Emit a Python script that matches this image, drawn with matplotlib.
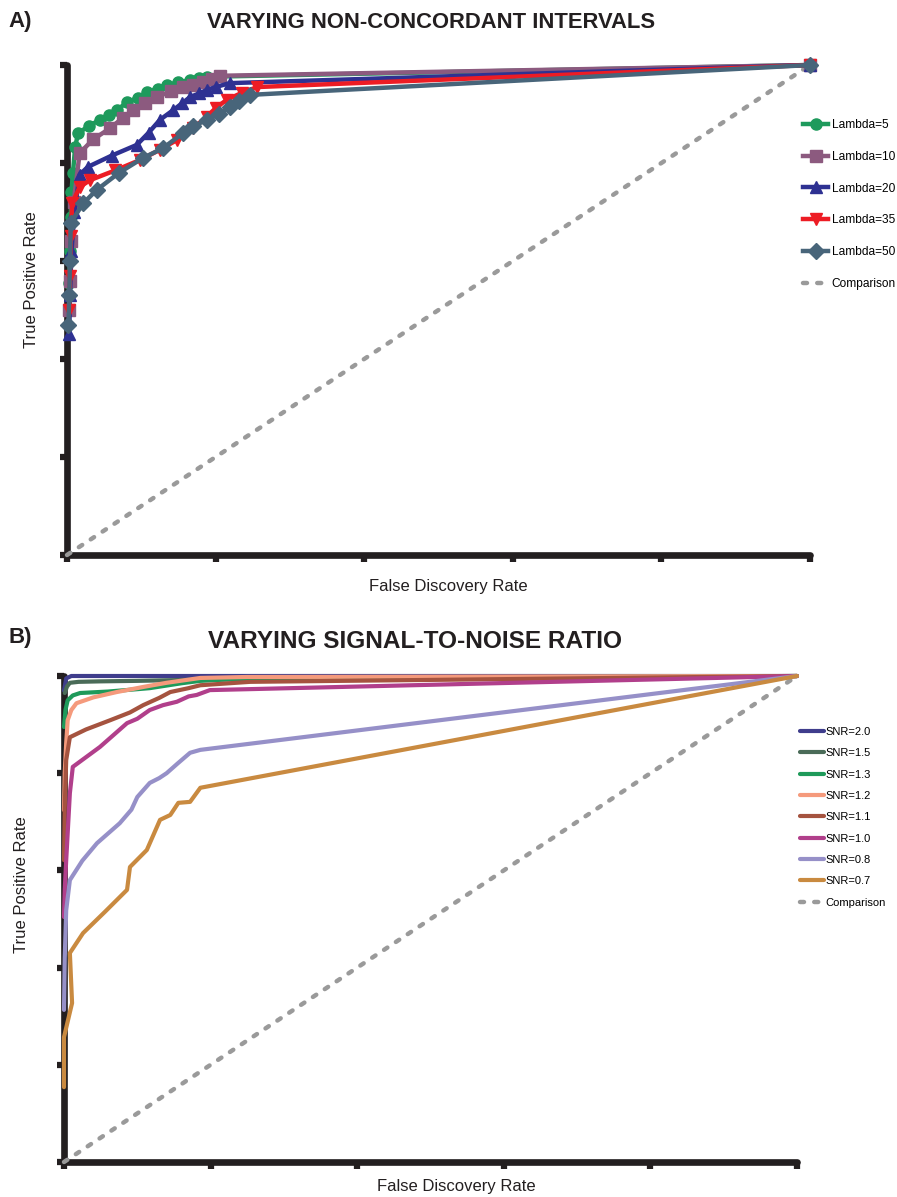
import matplotlib
matplotlib.use("Agg")
import matplotlib.pyplot as plt

plt.rcParams['font.family'] = ['Liberation Sans', 'DejaVu Sans']

# ---- panel A data: varying non-concordant intervals ----
lam_labels = ["Lambda=5", "Lambda=10", "Lambda=20", "Lambda=35", "Lambda=50"]
lam_colors = ["#1e9a5c", "#8c5a7f", "#2e3192", "#ed1c24", "#48657a"]
lam_markers = ["o", "s", "^", "v", "D"]

lam5_x = [0.003, 0.004, 0.005, 0.006, 0.008, 0.011, 0.015, 0.030, 0.044, 0.056, 0.067,
          0.081, 0.095, 0.108, 0.122, 0.135, 0.150, 0.166, 0.178, 0.188, 1.0]
lam5_y = [0.555, 0.62, 0.69, 0.74, 0.78, 0.833, 0.861, 0.876, 0.888, 0.897, 0.908,
          0.924, 0.933, 0.945, 0.952, 0.959, 0.965, 0.969, 0.973, 0.976, 1.0]

lam10_x = [0.003, 0.004, 0.006, 0.009, 0.017, 0.035, 0.058, 0.075, 0.089, 0.105, 0.121,
           0.140, 0.156, 0.170, 0.183, 0.195, 0.206, 1.0]
lam10_y = [0.50, 0.56, 0.64, 0.72, 0.82, 0.848, 0.871, 0.892, 0.908, 0.922, 0.935,
           0.946, 0.955, 0.960, 0.965, 0.972, 0.978, 1.0]

lam20_x = [0.003, 0.004, 0.006, 0.010, 0.017, 0.028, 0.060, 0.094, 0.110, 0.125, 0.143,
           0.155, 0.166, 0.178, 0.188, 0.200, 0.219, 1.0]
lam20_y = [0.45, 0.53, 0.62, 0.70, 0.776, 0.792, 0.815, 0.837, 0.862, 0.888, 0.908,
           0.922, 0.935, 0.942, 0.949, 0.955, 0.963, 1.0]

lam35_x = [0.003, 0.004, 0.005, 0.007, 0.017, 0.031, 0.065, 0.098, 0.125, 0.148, 0.170,
           0.188, 0.200, 0.215, 0.235, 0.256, 1.0]
lam35_y = [0.50, 0.57, 0.65, 0.718, 0.751, 0.765, 0.785, 0.806, 0.827, 0.847, 0.872,
           0.894, 0.912, 0.929, 0.943, 0.955, 1.0]

lam50_x = [0.002, 0.003, 0.004, 0.005, 0.022, 0.040, 0.070, 0.102, 0.129, 0.156, 0.170,
           0.188, 0.205, 0.219, 0.232, 0.246, 1.0]
lam50_y = [0.47, 0.53, 0.60, 0.678, 0.718, 0.745, 0.78, 0.81, 0.83, 0.861, 0.875,
           0.888, 0.900, 0.914, 0.927, 0.939, 1.0]

lam_x = [lam5_x, lam10_x, lam20_x, lam35_x, lam50_x]
lam_y = [lam5_y, lam10_y, lam20_y, lam35_y, lam50_y]

# ---- panel B data: varying signal-to-noise ratio ----
snr_labels = ["SNR=2.0", "SNR=1.5", "SNR=1.3", "SNR=1.2", "SNR=1.1", "SNR=1.0", "SNR=0.8", "SNR=0.7"]
snr_colors = ["#3f3d8c", "#4a6b58", "#1e9a5a", "#f59a7c", "#a5533f", "#b13f8b", "#9690c8", "#c98a40"]

snr20_x = [0.0, 0.003, 0.010, 1.0]
snr20_y = [0.97, 0.995, 1.0, 1.0]
snr15_x = [0.001, 0.004, 0.008, 0.02, 0.05, 0.10, 0.20, 1.0]
snr15_y = [0.965, 0.978, 0.986, 0.988, 0.989, 0.990, 0.993, 1.0]
snr13_x = [0.0, 0.002, 0.005, 0.012, 0.022, 0.06, 0.117, 0.16, 0.186, 0.25, 1.0]
snr13_y = [0.895, 0.93, 0.95, 0.96, 0.965, 0.968, 0.975, 0.985, 0.99, 0.995, 1.0]
snr12_x = [0.0, 0.001, 0.003, 0.005, 0.010, 0.017, 0.04, 0.072, 0.11, 0.14, 0.186, 0.25, 1.0]
snr12_y = [0.724, 0.80, 0.862, 0.909, 0.93, 0.944, 0.956, 0.967, 0.978, 0.986, 0.996, 0.998, 1.0]
snr11_x = [0.0, 0.001, 0.003, 0.008, 0.03, 0.063, 0.09, 0.108, 0.13, 0.145, 0.17, 0.186, 0.254, 1.0]
snr11_y = [0.621, 0.73, 0.827, 0.874, 0.89, 0.909, 0.925, 0.94, 0.955, 0.967, 0.975, 0.981, 0.988, 1.0]
snr10_x = [0.0, 0.001, 0.003, 0.008, 0.012, 0.049, 0.086, 0.100, 0.117, 0.135, 0.154, 0.170, 0.181, 0.199, 1.0]
snr10_y = [0.504, 0.56, 0.621, 0.759, 0.813, 0.854, 0.903, 0.912, 0.93, 0.94, 0.947, 0.958, 0.961, 0.971, 1.0]
snr08_x = [0.0, 0.001, 0.003, 0.008, 0.025, 0.045, 0.076, 0.092, 0.100, 0.117, 0.130, 0.140, 0.155, 0.172, 0.186, 1.0]
snr08_y = [0.313, 0.42, 0.518, 0.58, 0.62, 0.656, 0.697, 0.725, 0.751, 0.78, 0.79, 0.80, 0.82, 0.842, 0.848, 1.0]
snr07_x = [0.0, 0.0, 0.011, 0.008, 0.026, 0.056, 0.086, 0.09, 0.113, 0.131, 0.145, 0.156, 0.172, 0.186, 1.0]
snr07_y = [0.154, 0.257, 0.327, 0.43, 0.471, 0.515, 0.56, 0.607, 0.642, 0.704, 0.714, 0.739, 0.741, 0.77, 1.0]

snr_x = [snr20_x, snr15_x, snr13_x, snr12_x, snr11_x, snr10_x, snr08_x, snr07_x]
snr_y = [snr20_y, snr15_y, snr13_y, snr12_y, snr11_y, snr10_y, snr08_y, snr07_y]

diag = [0.0, 1.0]
ticks = [0.0, 0.2, 0.4, 0.6, 0.8, 1.0]

ink = "#231f20"
gray = "#9a9a9a"


def style_axes(ax):
    ax.set_xlim(0, 1)
    ax.set_ylim(0, 1)
    for s in ["top", "right"]:
        ax.spines[s].set_visible(False)
    for s in ["left", "bottom"]:
        ax.spines[s].set_linewidth(4.8)
        ax.spines[s].set_color(ink)
        ax.spines[s].set_capstyle("round")
    ax.set_xticks(ticks)
    ax.set_yticks(ticks)
    ax.tick_params(direction="out", length=5, width=4.5, color=ink,
                   labelbottom=False, labelleft=False)
    ax.patch.set_alpha(0)


fig = plt.figure(figsize=(8.97, 11.97), dpi=100)

# panel A
axA = fig.add_axes([67 / 897, 1 - 555 / 1197, 743 / 897, 490 / 1197])
style_axes(axA)
for xs, ys, c, m, lab in zip(lam_x, lam_y, lam_colors, lam_markers, lam_labels):
    axA.plot(xs, ys, color=c, lw=3.2, marker=m, ms=8, mec=c, label=lab,
             clip_on=False, zorder=4)
axA.plot(diag, diag, color=gray, lw=3.2, ls=(0, (0.9, 2.3)), dash_capstyle="round",
         label="Comparison", clip_on=False, zorder=3)
hA, lA = axA.get_legend_handles_labels()
fig.legend(hA, lA, loc="upper left", bbox_to_anchor=(803 / 897, 1 - 119 / 1197),
           frameon=False, fontsize=8.6, handlelength=2.1, handletextpad=0.3,
           labelspacing=1.66, borderpad=0, borderaxespad=0)

fig.text(8 / 897, 1 - 22 / 1197, "A)", fontsize=16, fontweight="bold", color=ink,
         ha="left", va="center")
fig.text(431 / 897, 1 - 22 / 1197, "VARYING NON-CONCORDANT INTERVALS", fontsize=15.8,
         fontweight="bold", color=ink, ha="center", va="center")
fig.text(448 / 897, 1 - 586 / 1197, "False Discovery Rate", fontsize=12, color=ink,
         ha="center", va="center")
fig.text(32 / 897, 1 - 280 / 1197, "True Positive Rate", fontsize=12, color=ink,
         ha="center", va="center", rotation=90)

# panel B
axB = fig.add_axes([64 / 897, 1 - 1162 / 1197, 733 / 897, 486 / 1197])
style_axes(axB)
for xs, ys, c, lab in zip(snr_x, snr_y, snr_colors, snr_labels):
    axB.plot(xs, ys, color=c, lw=3, label=lab, clip_on=False, zorder=4,
             solid_capstyle="round", solid_joinstyle="round")
axB.plot(diag, diag, color=gray, lw=3.2, ls=(0, (0.9, 2.3)), dash_capstyle="round",
         label="Comparison", clip_on=False, zorder=3)
hB, lB = axB.get_legend_handles_labels()
fig.legend(hB, lB, loc="upper left", bbox_to_anchor=(800 / 897, 1 - 727 / 1197),
           frameon=False, fontsize=8, handlelength=2.2, handletextpad=0.1,
           labelspacing=1.02, borderpad=0, borderaxespad=0)

fig.text(8 / 897, 1 - 637 / 1197, "B)", fontsize=16, fontweight="bold", color=ink,
         ha="left", va="center")
fig.text(415 / 897, 1 - 642 / 1197, "VARYING SIGNAL-TO-NOISE RATIO", fontsize=17.6,
         fontweight="bold", color=ink, ha="center", va="center")
fig.text(456 / 897, 1 - 1187 / 1197, "False Discovery Rate", fontsize=12, color=ink,
         ha="center", va="center")
fig.text(22 / 897, 1 - 885 / 1197, "True Positive Rate", fontsize=12, color=ink,
         ha="center", va="center", rotation=90)

fig.savefig("out.png", dpi=100)
